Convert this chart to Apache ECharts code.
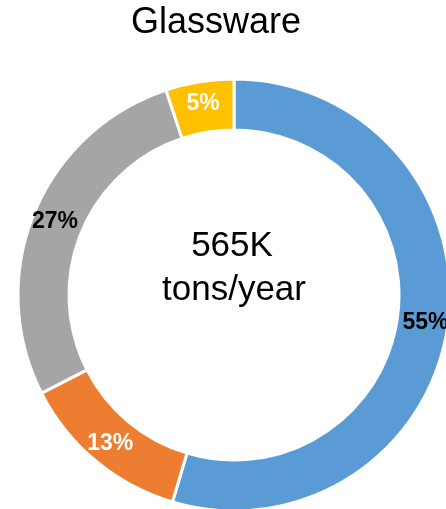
<!DOCTYPE html>
<html>
<head>
<meta charset="utf-8">
<script src="https://cdn.jsdelivr.net/npm/echarts@6/dist/echarts.min.js"></script>
<style>
  html, body {margin: 0; padding: 0; background: #fff;}
  #chart {width: 446px; height: 509px;}
</style>
</head>
<body>
<div id="chart"></div>
<script>
// slices, clockwise from 12 o'clock
var categories = ['Segment 1', 'Segment 2', 'Segment 3', 'Segment 4'];
var shares = [54.6, 12.9, 27.4, 5.1];
var sliceColors = ['#5B9BD5', '#ED7D31', '#A5A5A5', '#FFC000'];
var labelColors = ['#000', '#fff', '#000', '#fff'];
var centerLines = ['565K', 'tons/year'];

var myChart = echarts.init(document.getElementById('chart'));
myChart.setOption({
    animation: false,
    title: {
        text: 'Glassware',
        left: 131,
        top: 5,
        padding: 0,
        textStyle: {
            fontFamily: 'Liberation Sans, Arial, sans-serif',
            fontSize: 36,
            fontWeight: 'normal',
            color: '#000'
        }
    },
    graphic: [{
        type: 'text',
        x: 232,
        y: 246,
        style: {
            text: centerLines[0],
            font: '35px "Liberation Sans", Arial, sans-serif',
            fill: '#000',
            textAlign: 'center',
            textVerticalAlign: 'middle'
        }
    }, {
        type: 'text',
        x: 234,
        y: 290,
        style: {
            text: centerLines[1],
            font: '35px "Liberation Sans", Arial, sans-serif',
            fill: '#000',
            textAlign: 'center',
            textVerticalAlign: 'middle'
        }
    }],
    series: [{
        type: 'pie',
        center: [234, 295],
        radius: [165, 216],
        startAngle: 90,
        clockwise: true,
        avoidLabelOverlap: false,
        itemStyle: {borderColor: '#fff', borderWidth: 3},
        label: {
            show: true,
            position: 'inside',
            fontFamily: 'Liberation Sans, Arial, sans-serif',
            fontSize: 23,
            fontWeight: 'bold',
            formatter: function (p) {
                return Math.round(p.percent) + '%';
            }
        },
        labelLine: {show: false},
        emphasis: {disabled: true},
        data: categories.map(function (name, i) {
            return {
                name: name,
                value: shares[i],
                itemStyle: {color: sliceColors[i]},
                label: {color: labelColors[i]}
            };
        })
    }]
});
</script>
</body>
</html>
